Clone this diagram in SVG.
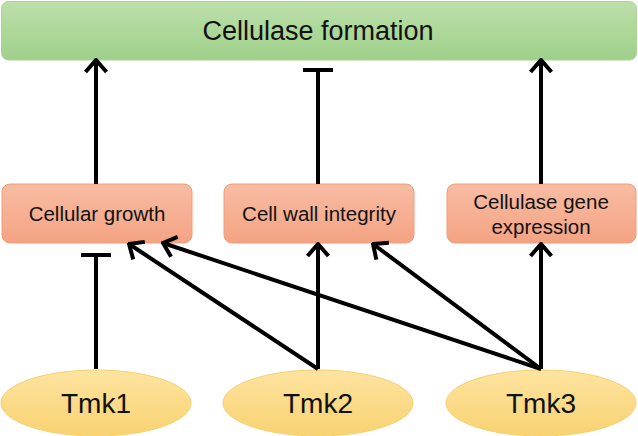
<svg xmlns="http://www.w3.org/2000/svg" width="638" height="436" viewBox="0 0 638 436">
<style>
text{font-family:"Liberation Sans",Arial,sans-serif;fill:#111;text-anchor:middle}
.box{fill:url(#og);stroke:#f09c78;stroke-width:1}
.ell{fill:url(#yg);stroke:#f7cf6c;stroke-width:1}
.c{stroke:#000;stroke-width:4;fill:none}
</style>
<defs>
<linearGradient id="gg" x1="0" y1="0" x2="0" y2="1"><stop offset="0" stop-color="#bcdfa9"/><stop offset="1" stop-color="#9fd08a"/></linearGradient>
<linearGradient id="og" x1="0" y1="0" x2="0" y2="1"><stop offset="0" stop-color="#f8bca3"/><stop offset="1" stop-color="#f4a383"/></linearGradient>
<linearGradient id="yg" x1="0" y1="0" x2="0" y2="1"><stop offset="0" stop-color="#fde4a0"/><stop offset="1" stop-color="#f9d272"/></linearGradient>
<marker id="ar" viewBox="-16 -13 18 26" refX="0" refY="0" markerWidth="18" markerHeight="26" markerUnits="userSpaceOnUse" orient="auto">
<path d="M-12,-10.5 L0,0 L-12,10.5" fill="none" stroke="#000" stroke-width="4" stroke-linejoin="miter"/>
</marker>
</defs>
<g id="cellulase-formation">
<rect x="1.5" y="1.5" width="635" height="58.5" rx="7" fill="url(#gg)" stroke="#a8d592" stroke-width="1"/>
<text x="318" y="40" font-size="27">Cellulase formation</text>
</g>
<g id="cellular-growth">
<rect class="box" x="2" y="184" width="190" height="59" rx="8"/>
<text x="97" y="221" font-size="20.5">Cellular growth</text>
</g>
<g id="cell-wall-integrity">
<rect class="box" x="224" y="184" width="190" height="59" rx="8"/>
<text x="319" y="221" font-size="20.5">Cell wall integrity</text>
</g>
<g id="cellulase-gene-expression">
<rect class="box" x="447" y="184" width="189" height="59" rx="8"/>
<text x="541" y="209" font-size="20.5">Cellulase gene</text>
<text x="541" y="234" font-size="20.5">expression</text>
</g>
<g id="tmk1">
<ellipse class="ell" cx="96" cy="403" rx="95" ry="33"/>
<text x="96" y="413" font-size="28">Tmk1</text>
</g>
<g id="tmk2">
<ellipse class="ell" cx="318" cy="403" rx="95" ry="33"/>
<text x="318" y="413" font-size="28">Tmk2</text>
</g>
<g id="tmk3">
<ellipse class="ell" cx="541" cy="403" rx="95" ry="33"/>
<text x="541" y="413" font-size="28">Tmk3</text>
</g>
<g id="connectors">
<line class="c" x1="96" y1="184" x2="96" y2="60" marker-end="url(#ar)"/>
<line class="c" x1="318" y1="184" x2="318" y2="70"/>
<line class="c" x1="303" y1="70" x2="333" y2="70"/>
<line class="c" x1="541" y1="184" x2="541" y2="60" marker-end="url(#ar)"/>
<line class="c" x1="96" y1="369" x2="96" y2="255"/>
<line class="c" x1="81" y1="255" x2="111" y2="255"/>
<line class="c" x1="318" y1="369" x2="318" y2="244" marker-end="url(#ar)"/>
<line class="c" x1="318" y1="369" x2="129" y2="244" marker-end="url(#ar)"/>
<line class="c" x1="541" y1="369" x2="163" y2="243" marker-end="url(#ar)"/>
<line class="c" x1="541" y1="369" x2="373" y2="244" marker-end="url(#ar)"/>
<line class="c" x1="541" y1="369" x2="541" y2="244" marker-end="url(#ar)"/>
</g>
</svg>
